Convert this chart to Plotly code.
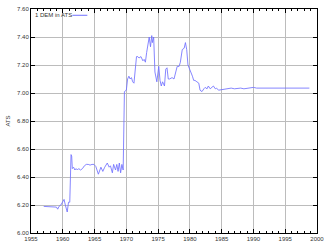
import plotly.graph_objects as go

years = [1957.0, 1957.5, 1958.0, 1958.5, 1959.0, 1959.2, 1959.4, 1959.7, 1960.0, 1960.2,
         1960.4, 1960.6, 1960.7, 1960.9, 1961.1, 1961.3, 1961.4, 1961.5, 1961.7, 1961.9,
         1962.1, 1962.3, 1962.5, 1962.8, 1963.1, 1963.4, 1963.7, 1964.0, 1964.3, 1964.6,
         1964.9, 1965.2, 1965.6, 1966.0, 1966.3, 1966.6, 1967.0, 1967.3, 1967.5, 1967.8,
         1968.0, 1968.3, 1968.5, 1968.7, 1968.9, 1969.1, 1969.3, 1969.5, 1969.7, 1970.0,
         1970.2, 1970.4, 1970.6, 1970.8, 1971.0, 1971.2, 1971.4, 1971.6, 1971.8, 1972.0,
         1972.3, 1972.6, 1972.8, 1973.0, 1973.2, 1973.4, 1973.6, 1973.8, 1974.0, 1974.1,
         1974.3, 1974.5, 1974.8, 1975.1, 1975.3, 1975.5, 1975.7, 1976.0, 1976.2, 1976.4,
         1976.6, 1976.8, 1977.2, 1977.5, 1977.8, 1978.0, 1978.3, 1978.5, 1978.8, 1979.1,
         1979.3, 1979.5, 1979.7, 1979.9, 1980.2, 1980.4, 1980.6, 1980.8, 1981.1, 1981.4,
         1981.6, 1981.9, 1982.2, 1982.4, 1982.7, 1982.9, 1983.2, 1983.4, 1983.7, 1984.0,
         1984.2, 1984.5, 1985.0, 1985.5, 1986.0, 1986.5, 1987.0, 1987.5, 1988.0, 1988.5,
         1989.0, 1989.5, 1990.0, 1990.5, 1991.0, 1992.0, 1993.0, 1993.5, 1994.0, 1995.0,
         1995.5, 1996.0, 1997.0, 1998.0, 1998.8]
ats = [6.19, 6.19, 6.185, 6.19, 6.185, 6.17, 6.19, 6.20, 6.22, 6.24,
       6.20, 6.17, 6.15, 6.22, 6.22, 6.56, 6.55, 6.46, 6.47, 6.45,
       6.46, 6.45, 6.46, 6.45, 6.46, 6.48, 6.49, 6.49, 6.485, 6.49,
       6.49, 6.475, 6.42, 6.47, 6.44, 6.47, 6.50, 6.47, 6.48, 6.43,
       6.49, 6.45, 6.49, 6.44, 6.50, 6.43, 6.49, 6.45, 7.01, 7.02,
       7.10, 7.12, 7.10, 7.11, 7.08, 7.07, 7.15, 7.26, 7.26, 7.25,
       7.26, 7.23, 7.24, 7.22, 7.29, 7.36, 7.40, 7.33, 7.41, 7.36,
       7.40, 7.15, 7.08, 7.19, 7.09, 7.05, 7.08, 7.05, 7.17, 7.18,
       7.10, 7.10, 7.11, 7.10, 7.16, 7.19, 7.19, 7.22, 7.31, 7.32,
       7.36, 7.31, 7.20, 7.18, 7.15, 7.12, 7.09, 7.09, 7.08, 7.07,
       7.02, 7.01, 7.03, 7.04, 7.03, 7.05, 7.03, 7.04, 7.05, 7.03,
       7.035, 7.02, 7.025, 7.03, 7.03, 7.035, 7.03, 7.035, 7.035, 7.03,
       7.035, 7.035, 7.04, 7.035, 7.035, 7.035, 7.035, 7.03, 7.035, 7.035,
       7.03, 7.035, 7.035, 7.035, 7.035]

series_name = "1 DEM in ATS"
y_title = "ATS"
line_color = "#7070ff"

fig = go.Figure()
fig.add_trace(go.Scatter(x=years, y=ats, mode="lines", name=series_name,
                         line=dict(color=line_color, width=0.85), showlegend=False))

font = dict(family="Liberation Sans, Arial, sans-serif", size=6, color="#333333")
axis_common = dict(showline=True, linecolor="black", linewidth=1, mirror="allticks",
                   showgrid=True, gridcolor="#bcbcbc", gridwidth=1, zeroline=False,
                   ticks="inside", tickcolor="black", tickfont=font)

fig.update_xaxes(range=[1955, 2000], dtick=5, tick0=1955, ticklen=4,
                 minor=dict(dtick=1, ticks="inside", ticklen=2, tickcolor="black", showgrid=False),
                 **axis_common)
fig.update_yaxes(range=[6.0, 7.6], dtick=0.2, tick0=6.0, tickformat=".2f", ticklen=4,
                 title=dict(text=y_title, font=font, standoff=6),
                 **axis_common)

# legend (text followed by line sample, gnuplot style)
fig.add_annotation(x=0.01, y=0.972, xref="paper", yref="paper", text=series_name,
                   showarrow=False, xanchor="left", yanchor="middle", font=font, borderpad=0)
fig.add_shape(type="line", xref="paper", yref="paper", x0=0.145, x1=0.197, y0=0.972, y1=0.972,
              line=dict(color=line_color, width=1))

fig.update_layout(width=330, height=248, margin=dict(l=31, r=8, t=6, b=14),
                  paper_bgcolor="white", plot_bgcolor="white", font=font)
fig.write_html("out.html")
